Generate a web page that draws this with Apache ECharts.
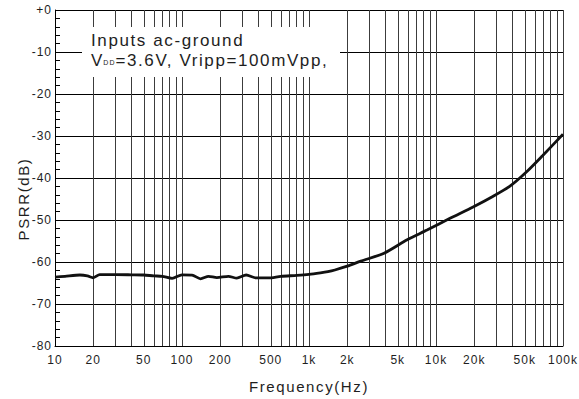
<!DOCTYPE html>
<html>
<head>
<meta charset="utf-8">
<script src="https://cdn.jsdelivr.net/npm/echarts@6/dist/echarts.min.js"></script>
<style>
html,body{margin:0;padding:0;background:#fff;}
#chart{width:579px;height:399px;}
svg text{letter-spacing:1px;}
svg text[style*="17px"]{letter-spacing:1.6px;}
svg text[style*="15px"]{letter-spacing:1.6px;}
</style>
</head>
<body>
<div id="chart"></div>
<script>
// Frequency (Hz) and PSRR (dB)
var freqHz = [10, 12, 15.7, 18, 20, 22.5, 30, 40, 50, 60, 70, 83.6, 100, 120, 140, 162, 188, 232, 270, 320, 385, 480, 600, 800, 1000, 1230, 1410, 1600, 2000, 2560, 3900, 5930, 8500, 12900, 19600, 28000, 38000, 51000, 69000, 100000];
var psrrDb = [-63.6, -63.4, -63.1, -63.3, -63.75, -63.0, -63.0, -63.05, -63.1, -63.3, -63.4, -63.9, -63.05, -63.1, -64.0, -63.4, -63.7, -63.4, -63.85, -63.1, -63.8, -63.8, -63.4, -63.2, -62.97, -62.6, -62.3, -61.9, -61.0, -59.8, -57.9, -54.7, -52.4, -49.6, -46.9, -44.4, -42.0, -38.7, -34.7, -29.6];

// Axis tick / grid values
var xGridValues = [10,20,30,40,50,60,70,80,90,100,200,300,400,500,600,700,800,900,1000,2000,3000,4000,5000,6000,7000,8000,9000,10000,20000,30000,40000,50000,60000,70000,80000,90000,100000];
var xLabelValues = [10, 20, 50, 100, 200, 500, 1000, 2000, 5000, 10000, 20000, 50000, 100000];
var yMin = -80, yMax = 0, yStep = 10;

var legendLine1 = 'Inputs ac-ground';
var legendLine2a = 'V', legendLine2sub = 'DD', legendLine2b = '=3.6V, Vripp=100mVpp,';
var xName = 'Frequency(Hz)';
var yName = 'PSRR(dB)';

var FONT = '"Liberation Sans", Arial, Helvetica, sans-serif';
var TXT = '#1e1e1e';

var chart = echarts.init(document.getElementById('chart'), null, {renderer: 'svg'});

var data = freqHz.map(function (f, i) { return [f, psrrDb[i]]; });

chart.setOption({
  animation: false,
  backgroundColor: '#fff',
  grid: {left: 55, right: 11, top: 10, bottom: 48, containLabel: false},
  xAxis: {
    type: 'log',
    logBase: 10,
    min: 10,
    max: 100000,
    name: xName,
    nameLocation: 'middle',
    nameGap: 33,
    nameTextStyle: {fontFamily: FONT, fontSize: 15, color: TXT},
    axisLine: {show: true, onZero: false, lineStyle: {color: '#000', width: 1}},
    axisTick: {show: false, customValues: xGridValues},
    axisLabel: {
      customValues: xLabelValues,
      fontFamily: FONT, fontSize: 12, color: TXT, margin: 8,
      showMinLabel: true, showMaxLabel: true, hideOverlap: false,
      formatter: function (v) {
        v = Math.round(v);
        return v >= 1000 ? (v / 1000) + 'k' : String(v);
      }
    },
    splitLine: {show: true, lineStyle: {color: '#3c3c3c', width: 1}},
    minorTick: {show: false},
    minorSplitLine: {show: false}
  },
  yAxis: {
    type: 'value',
    min: yMin,
    max: yMax,
    interval: yStep,
    axisLine: {show: true, onZero: false, lineStyle: {color: '#000', width: 1}},
    axisTick: {show: true, inside: true, length: 5, lineStyle: {color: '#000'}},
    minorTick: {show: true, splitNumber: 5, length: 5, lineStyle: {color: '#000', width: 1}},
    axisLabel: {
      fontFamily: FONT, fontSize: 12, color: TXT, margin: 3,
      formatter: function (v) { return v === 0 ? '+0' : String(v); }
    },
    splitLine: {show: true, lineStyle: {color: '#000', width: 1}}
  },
  series: [{
    type: 'line',
    data: data,
    showSymbol: false,
    symbol: 'none',
    smooth: 0.25,
    lineStyle: {color: '#111', width: 2.8},
    z: 5
  }],
  graphic: [
    {
      type: 'rect', z: 50,
      shape: {x: 82, y: 27, width: 258, height: 50},
      style: {fill: '#fff'}
    },
    {
      type: 'text', z: 51,
      x: 91, y: 30,
      style: {
        text: '{a|' + legendLine1 + '}\n{a|' + legendLine2a + '}{b|' + legendLine2sub + '}{a|' + legendLine2b + '}',
        verticalAlign: 'top',
        align: 'left',
        fill: TXT,
        rich: {
          a: {fontFamily: FONT, fontSize: 17, lineHeight: 20, fill: TXT},
          b: {fontFamily: FONT, fontSize: 7, lineHeight: 20, fill: TXT, padding: [4, 2, 0, 1]}
        }
      }
    },
    {
      type: 'text', z: 51,
      x: 23, y: 199,
      rotation: Math.PI / 2,
      style: {
        text: yName,
        fontFamily: FONT, fontSize: 15, fill: TXT,
        align: 'center', verticalAlign: 'middle'
      }
    }
  ]
});
</script>
</body>
</html>
